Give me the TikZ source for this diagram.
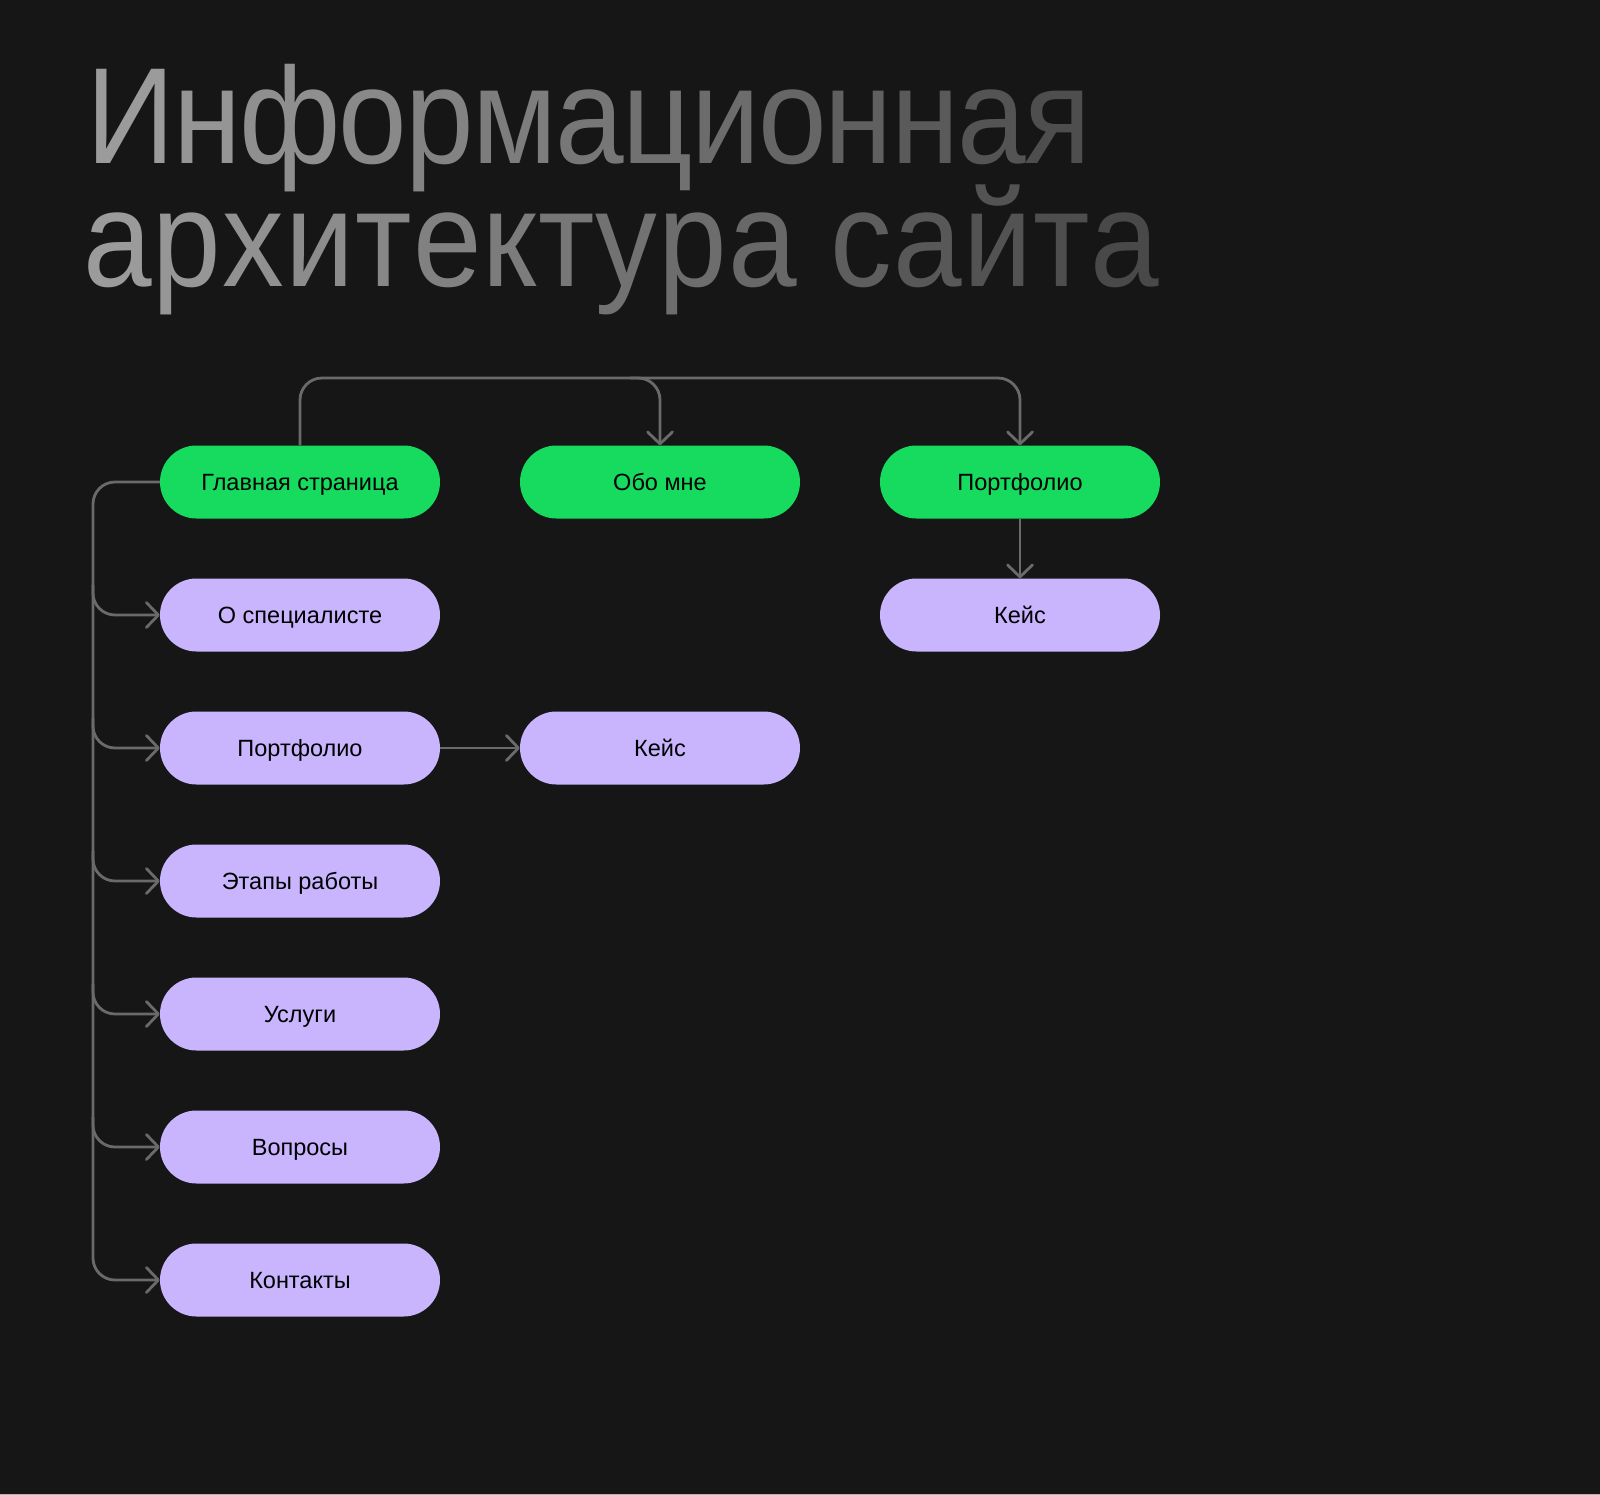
\documentclass[tikz,border=0pt]{standalone}
\usepackage{fontspec}
\setmainfont{Liberation Sans}
\usetikzlibrary{arrows.meta,calc}
\definecolor{bg}{HTML}{161616}
\definecolor{gr}{HTML}{16DB5E}
\definecolor{pu}{HTML}{C8B5FE}
\definecolor{ln}{HTML}{6A6A6A}
\definecolor{tA}{HTML}{9E9E9E}
\definecolor{tB}{HTML}{444444}
\definecolor{edge}{HTML}{B4B4B4}
\makeatletter
\newcount\gcnt
\newcommand\gradword[4]{%
  \gcnt=0\relax
  \@tfor\gch:=#4\do{%
    \pgfmathsetmacro\gp{min(100,max(0,#1+#2*\gcnt))}%
    \textcolor{tB!\gp!tA}{\gch}\kern#3\relax
    \advance\gcnt by 1\relax}}
\makeatother
\begin{document}
\begin{tikzpicture}[x=1pt,y=-1pt,
  conn/.style={draw=ln,line width=2.8pt,rounded corners=22pt},
  arr/.style={-{Straight Barb[length=12pt,width=25pt,round]}},
  pill/.style={rounded corners=36.5pt,minimum width=280pt,minimum height=73pt,inner sep=0pt,text=black,text height=17pt,text depth=0pt,font=\fontsize{23.5}{28}\selectfont},
  gpill/.style={pill,fill=gr},
  ppill/.style={pill,fill=pu},
  titletext/.style={inner sep=0pt,anchor=base west,font=\fontsize{137}{137}\selectfont}]
\useasboundingbox (0,0) rectangle (1600,1495);
\fill[bg] (0,0) rectangle (1600,1495);
\fill[edge] (0,1493.5) rectangle (1600,1495);

\node[titletext] (t1) at (86,164) {\scalebox{0.9}[1]{\gradword{4}{6.5}{-2pt}{Информационная}}};
\node[titletext] (t2) at (83,287) {\scalebox{0.9}[1]{\gradword{3.3}{5.7}{1.3pt}{архитектура}\hspace{-2pt} \gradword{71.7}{5.7}{1.3pt}{сайта}}};

\node[gpill] (g1) at (300,482) {Главная страница};
\node[gpill] (g2) at (660,482) {Обо мне};
\node[gpill] (g3) at (1020,482) {Портфолио};
\node[ppill] (p1) at (300,615) {О специалисте};
\node[ppill] (p2) at (300,748) {Портфолио};
\node[ppill] (p3) at (300,881) {Этапы работы};
\node[ppill] (p4) at (300,1014) {Услуги};
\node[ppill] (p5) at (300,1147) {Вопросы};
\node[ppill] (p6) at (300,1280) {Контакты};
\node[ppill] (k1) at (660,748) {Кейс};
\node[ppill] (k2) at (1020,615) {Кейс};

\coordinate (topy) at (0,378);
\coordinate (tx) at (93,0);

% top connector
\draw[conn,arr] (g1.north) -- (g1.north |- topy) -- (topy -| g3.north) -- (g3.north);
\draw[conn,arr] ([xshift=-30pt]topy -| g2.north) -| (g2.north);
\draw[conn,arr] (g3.south) -- (k2.north);
\draw[conn,arr] (p2.east) -- (k1.west);

% left trunk
\draw[conn,arr] (g1.west) -| (tx |- p6.west) -- (p6.west);
\foreach \n in {p1,p2,p3,p4,p5}
  \draw[conn,arr] ([yshift=30pt]tx |- \n.west) |- (\n.west);
\end{tikzpicture}
\end{document}
